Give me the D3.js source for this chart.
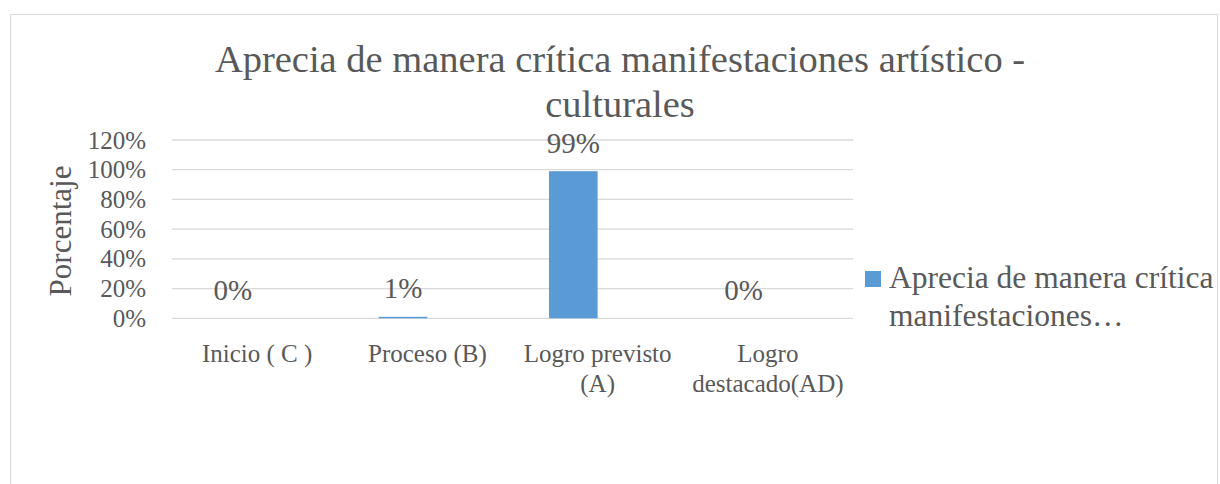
<!DOCTYPE html>
<html>
	<head>
		<meta charset="utf-8" />
		<title>Aprecia de manera crítica manifestaciones artístico - culturales</title>
		<script src="https://cdn.jsdelivr.net/npm/d3@7"></script>
		<style>
			html,
			body {
				margin: 0;
				padding: 0;
				background: #fff;
			}

			svg {
				display: block;
			}

			svg text {
				font-family: 'Liberation Serif', 'Times New Roman', serif;
				fill: #595959;
			}

			.grid line {
				stroke: #d9d9d9;
				stroke-width: 1.3px;
			}
		</style>
	</head>

	<body>
		<svg id="chart"></svg>

		<script>
			const categories = [
				['Inicio ( C )'],
				['Proceso (B)'],
				['Logro previsto', '(A)'],
				['Logro', 'destacado(AD)'],
			];
			const values = [0, 0.01, 0.99, 0];
			const yTicks = [0, 0.2, 0.4, 0.6, 0.8, 1, 1.2];
			const titleLines = [
				'Aprecia de manera crítica manifestaciones artístico -',
				'culturales',
			];
			const legendLines = ['Aprecia de manera crítica', 'manifestaciones…'];
			// Excel kept a second (empty) series slot, so bars sit left of centre
			const seriesSlots = ['serie1', 'serie2'];

			const width = 1220;
			const height = 484;
			const barColor = '#5b9bd5';
			const serif = "'Liberation Serif', 'Times New Roman', serif";

			const svg = d3
				.select('#chart')
				.attr('width', width)
				.attr('height', height);

			// chart area border
			svg.append('rect')
				.attr('x', 10.5)
				.attr('y', 14.5)
				.attr('width', 1207)
				.attr('height', 480)
				.attr('fill', '#fff')
				.attr('stroke', '#d9d9d9')
				.attr('stroke-width', 1);

			const plot = { left: 172, right: 853, top: 140, bottom: 318.3 };

			const x = d3
				.scaleBand()
				.domain(d3.range(categories.length))
				.range([plot.left, plot.right]);

			const xSlot = d3
				.scaleBand()
				.domain(seriesSlots)
				.range([0, x.bandwidth()])
				.paddingInner(0)
				.paddingOuter(0.75);

			const y = d3
				.scaleLinear()
				.domain([0, 1.2])
				.range([plot.bottom, plot.top]);

			// title
			svg.append('text')
				.attr('text-anchor', 'middle')
				.style('font-family', serif)
				.style('font-size', '38.5px')
				.selectAll('tspan')
				.data(titleLines)
				.join('tspan')
				.attr('x', 620)
				.attr('y', (d, i) => 72 + i * 45)
				.text((d) => d);

			// gridlines
			svg.append('g')
				.attr('class', 'grid')
				.selectAll('line')
				.data(yTicks)
				.join('line')
				.attr('x1', plot.left)
				.attr('x2', plot.right)
				.attr('y1', (d) => y(d))
				.attr('y2', (d) => y(d));

			// y axis labels
			const yAxis = svg
				.append('g')
				.attr('transform', `translate(${plot.left - 26},0)`)
				.call(
					d3
						.axisLeft(y)
						.tickValues(yTicks)
						.tickSize(0)
						.tickPadding(0)
						.tickFormat(d3.format('.0%'))
				);
			yAxis.select('.domain').remove();
			yAxis.selectAll('text')
				.style('font-size', '25px')
				.style('font-family', serif)
				.attr('fill', '#595959');

			// axis title
			svg.append('text')
				.attr('transform', 'translate(71,231) rotate(-90)')
				.attr('text-anchor', 'middle')
				.style('font-family', serif)
				.style('font-size', '31px')
				.text('Porcentaje');

			// bars
			svg.append('g')
				.selectAll('rect')
				.data(values)
				.join('rect')
				.attr('x', (d, i) => x(i) + xSlot('serie1'))
				.attr('width', xSlot.bandwidth())
				.attr('y', (d) => y(d))
				.attr('height', (d) => y(0) - y(d))
				.attr('fill', barColor);

			// data labels
			svg.append('g')
				.selectAll('text')
				.data(values)
				.join('text')
				.attr('x', (d, i) => x(i) + xSlot('serie1') + xSlot.bandwidth() / 2)
				.attr('y', (d) => y(d) - 18.5)
				.attr('text-anchor', 'middle')
				.style('font-family', serif)
				.style('font-size', '29px')
				.text((d) => d3.format('.0%')(d));

			// category labels
			svg.append('g')
				.selectAll('text')
				.data(categories)
				.join('text')
				.attr('text-anchor', 'middle')
				.style('font-family', serif)
				.style('font-size', '25px')
				.each(function (d, i) {
					d3.select(this)
						.selectAll('tspan')
						.data(d)
						.join('tspan')
						.attr('x', x(i) + x.bandwidth() / 2)
						.attr('y', (t, j) => 362 + j * 30)
						.text((t) => t);
				});

			// legend
			const legend = svg.append('g');
			legend
				.append('rect')
				.attr('x', 865)
				.attr('y', 271)
				.attr('width', 16)
				.attr('height', 16)
				.attr('fill', barColor);
			legend
				.append('text')
				.style('font-family', serif)
				.style('font-size', '31.5px')
				.selectAll('tspan')
				.data(legendLines)
				.join('tspan')
				.attr('x', 889)
				.attr('y', (d, i) => 288 + i * 38)
				.text((d) => d);
		</script>
	</body>
</html>
